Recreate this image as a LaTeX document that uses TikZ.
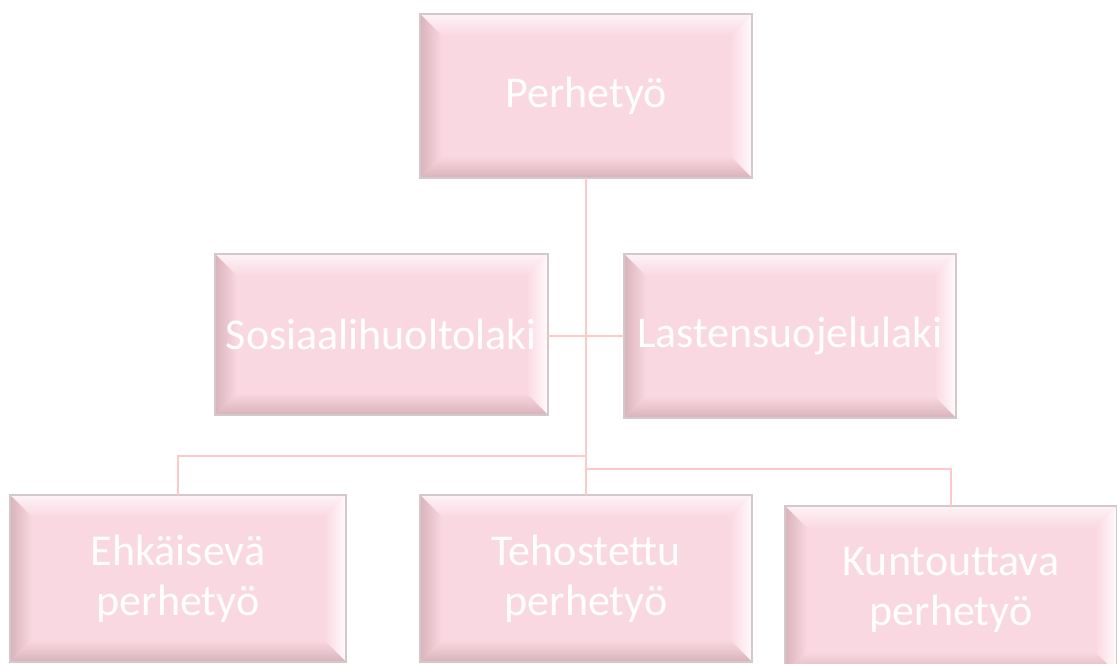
\documentclass[tikz,border=0pt]{standalone}
\usepackage{fontspec}
\setmainfont{Carlito}
\usetikzlibrary{calc}
\definecolor{boxfill}{HTML}{FAD8E1}
\definecolor{boxedge}{HTML}{D4C8CB}
\definecolor{bevtop}{HTML}{FDF3F7}
\definecolor{bevright}{HTML}{FFFBFD}
\definecolor{bevleft}{HTML}{D9B3BC}
\definecolor{bevbot}{HTML}{D8B2BA}
\definecolor{conncol}{HTML}{FFC9C9}
\tikzset{
  bevbox/.style 2 args={draw=boxedge, line width=1.2pt, fill=boxfill,
    minimum width=#1, minimum height=#2, inner sep=0pt, outer sep=0pt,
    text=white, align=center, font=\fontsize{44}{50}\selectfont,
    path picture={
      \coordinate (SW) at (path picture bounding box.south west);
      \coordinate (NE) at (path picture bounding box.north east);
      \coordinate (NW) at (path picture bounding box.north west);
      \coordinate (SE) at (path picture bounding box.south east);
      \shade[top color=bevtop, bottom color=boxfill] (NW) -- (NE) -- ($(NE)+(-22pt,-22pt)$) -- ($(NW)+(22pt,-22pt)$) -- cycle;
      \shade[left color=boxfill, right color=bevright] (NE) -- (SE) -- ($(SE)+(-22pt,22pt)$) -- ($(NE)+(-22pt,-22pt)$) -- cycle;
      \shade[left color=bevleft, right color=boxfill] (NW) -- (SW) -- ($(SW)+(22pt,22pt)$) -- ($(NW)+(22pt,-22pt)$) -- cycle;
      \shade[bottom color=bevbot, top color=boxfill] (SW) -- (SE) -- ($(SE)+(-22pt,22pt)$) -- ($(SW)+(22pt,22pt)$) -- cycle;
    }},
  conn/.style={draw=conncol, line width=2.8pt}
}
\begin{document}
\begin{tikzpicture}[x=1pt,y=1pt]
\useasboundingbox (0,0) rectangle (1117,664);
\clip (0,0) rectangle (1117,664);
\fill[white] (0,0) rectangle (1117,664);
\coordinate (jl) at (586,208);
\coordinate (jr) at (586,195);
\node[bevbox={332pt}{164pt}] (top) at (586,568) {Perhetyö};
\node[bevbox={333pt}{161pt}] (sos) at (381.5,329.5) {Sosiaalihuoltolaki};
\node[bevbox={332pt}{164pt}] (las) at (790,328) {Lastensuojelulaki};
\node[bevbox={336pt}{167pt}] (ehk) at (178,85.5) {Ehkäisevä\\perhetyö};
\node[bevbox={332pt}{167pt}] (teh) at (586,85.5) {Tehostettu\\perhetyö};
\node[bevbox={332pt}{168pt}] (kun) at (951,74) {Kuntouttava\\perhetyö};
\draw[conn] (top.south) -- (teh.north);
\draw[conn] (sos.east |- las.west) -- (las.west);
\draw[conn] (ehk.north) |- (jl);
\draw[conn] (kun.north) |- (jr);
\end{tikzpicture}
\end{document}
